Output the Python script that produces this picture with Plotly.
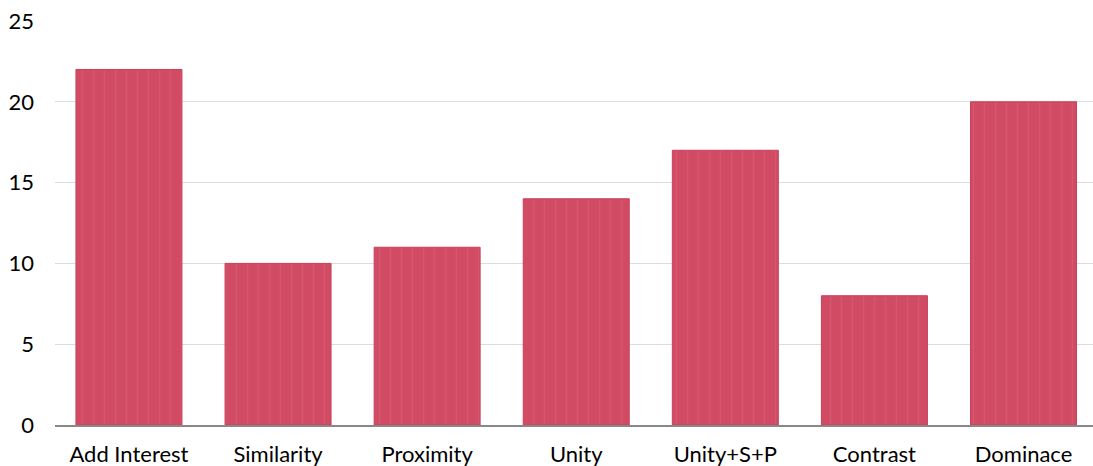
import plotly.graph_objects as go

categories = ["Add Interest", "Similarity", "Proximity", "Unity", "Unity+S+P", "Contrast", "Dominace"]
values = [22, 10, 11, 14, 17, 8, 20]
tick_vals = [0, 5, 10, 15, 20, 25]

fig = go.Figure()
fig.add_trace(go.Bar(
    x=categories,
    y=values,
    marker=dict(
        color="#d24b64",
        line=dict(color="#c9405a", width=1),
        pattern=dict(shape="|", fgcolor="#de6f84", fgopacity=0.3, size=11, solidity=0.12),
    ),
    hoverinfo="x+y",
))

fig.update_layout(
    width=1093,
    height=466,
    margin=dict(l=55, r=0, t=21, b=41),
    paper_bgcolor="white",
    plot_bgcolor="white",
    bargap=0.289,
    showlegend=False,
    font=dict(family="Lato, 'Open Sans', sans-serif", size=22, color="#000000"),
    xaxis=dict(
        range=[-0.496, 6.466],
        showgrid=False,
        showline=True,
        linecolor="#888888",
        linewidth=1.5,
        ticks="",
        ticklabelstandoff=9,
        tickfont=dict(size=22),
    ),
    yaxis=dict(
        range=[0, 25],
        tickvals=tick_vals,
        showgrid=True,
        gridcolor="#dcdcdc",
        gridwidth=1,
        zeroline=False,
        ticks="",
        ticklabelstandoff=20,
        tickfont=dict(size=22),
    ),
)

fig.write_html("out.html", config={"displayModeBar": False},
               post_script="document.body.style.margin='0';")
